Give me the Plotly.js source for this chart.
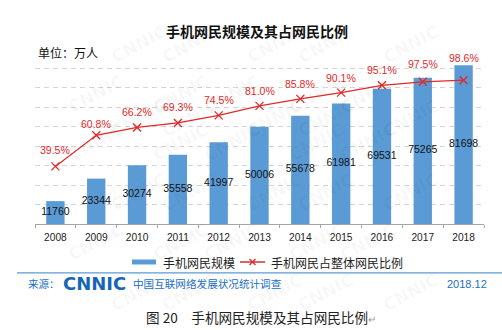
<!DOCTYPE html>
<html>
<head>
<meta charset="utf-8">
<script src="https://cdn.plot.ly/plotly-3.0.1.min.js"></script>
<style>
html,body{margin:0;padding:0;background:#fff;}
#chart{width:502px;height:330px;}
</style>
</head>
<body>
<div id="chart"></div>
<script>
const years = ['2008','2009','2010','2011','2012','2013','2014','2015','2016','2017','2018'];
const users = [11760, 23344, 30274, 35558, 41997, 50006, 55678, 61981, 69531, 75265, 81698];
const ratio = [39.5, 60.8, 66.2, 69.3, 74.5, 81.0, 85.8, 90.1, 95.1, 97.5, 98.6];
const barName = '手机网民规模';
const lineName = '手机网民占整体网民比例';

// styling
const BLUE = '#5b9bd5';
const RED = '#e02a2a';
const CJK = '"Noto Sans CJK SC", "Noto Sans", sans-serif';
const LAT = '"Liberation Sans", Arial, sans-serif';
// vertical lift (px) of each percentage label above its point
const pctLabelLift = [16, 11, 15, 16, 15, 15, 15, 15, 15, 18, 22];

// plot area in pixels
const L = 35, R = 484, T = 49, B = 224;
const px = x => (x - L) / (R - L);
const py = y => (B - y) / (B - T);

const traces = [
  {
    type: 'bar', x: years, y: users, name: barName,
    marker: {color: BLUE}, width: 0.45, showlegend: false, hoverinfo: 'none'
  },
  {
    type: 'scatter', mode: 'text', x: years, y: users.map(v => v / 2),
    text: users.map(String), textposition: 'middle center',
    textfont: {family: LAT, size: 10.5, color: '#111'},
    showlegend: false, hoverinfo: 'none', cliponaxis: false
  },
  {
    type: 'scatter', mode: 'lines+markers', x: years, y: ratio, yaxis: 'y2',
    name: lineName,
    line: {color: RED, width: 1.2},
    marker: {symbol: 'x-thin', size: 8, line: {color: RED, width: 1.3}, color: RED},
    showlegend: false, hoverinfo: 'none', cliponaxis: false
  }
];

const annotations = [];

// faint watermark lattice (kept inside the page)
for (let r = 0; r < 7; r++) {
  for (let c = 0; c < 7; c++) {
    const wx = 30 + c * 85 + (r % 2) * 42 - 10;
    const wy = 18 + r * 50;
    if (wx < 28 || wx > 470 || wy > 320) continue;
    annotations.push({text: '<b>CNNIC</b>', x: px(wx), y: py(wy), xref: 'paper', yref: 'paper',
      showarrow: false, textangle: -28,
      font: {family: '"DejaVu Sans", sans-serif', size: 17, color: 'rgba(0,0,0,0.035)'}});
  }
}

// percentage labels (category index on x, value on y2)
ratio.forEach((v, i) => annotations.push({
  text: v.toFixed(1) + '%', x: i, y: v, xref: 'x', yref: 'y2',
  yanchor: 'middle', yshift: pctLabelLift[i], showarrow: false,
  font: {family: LAT, size: 10.5, color: RED}
}));

[
  {text: '单位：万人', x: px(36), y: py(52), xanchor: 'left', yanchor: 'middle',
   font: {family: CJK, size: 12, color: '#111'}},
  {text: barName, x: px(161), y: py(262), xanchor: 'left', yanchor: 'middle',
   font: {family: CJK, size: 12, color: '#222'}},
  {text: lineName, x: px(269), y: py(262), xanchor: 'left', yanchor: 'middle',
   font: {family: CJK, size: 12, color: '#222'}},
  {text: '来源：', x: px(26), y: py(283.5), xanchor: 'left', yanchor: 'middle',
   font: {family: CJK, size: 10.5, color: '#1a6fc4'}},
  {text: '<b>CNNIC</b>', x: px(61), y: py(283.5), xanchor: 'left', yanchor: 'middle',
   font: {family: '"DejaVu Sans", sans-serif', size: 18, color: '#1565b8'}},
  {text: '中国互联网络发展状况统计调查', x: px(131), y: py(283.5), xanchor: 'left', yanchor: 'middle',
   font: {family: CJK, size: 10.6, color: '#1a6fc4'}},
  {text: '2018.12', x: px(489), y: py(283.5), xanchor: 'right', yanchor: 'middle',
   font: {family: LAT, size: 11, color: '#1a6fc4'}},
  {text: '图 20　手机网民规模及其占网民比例<span style="color:#999;font-size:10px">↵</span>', x: px(144), y: py(317), xanchor: 'left', yanchor: 'middle',
   font: {family: CJK, size: 13.6, color: '#222'}}
].forEach(a => annotations.push(Object.assign({xref: 'paper', yref: 'paper', showarrow: false}, a)));

const shapes = [
  // legend bar swatch
  {type: 'rect', x0: px(132), x1: px(156), y0: py(264.5), y1: py(259.5), fillcolor: BLUE, line: {width: 0}},
  // legend line swatch
  {type: 'line', x0: px(240), x1: px(265), y0: py(262), y1: py(262), line: {color: '#c00000', width: 1.2}},
  {type: 'line', x0: px(249.5), x1: px(255.5), y0: py(259), y1: py(265), line: {color: RED, width: 1.3}},
  {type: 'line', x0: px(249.5), x1: px(255.5), y0: py(265), y1: py(259), line: {color: RED, width: 1.3}},
  // footer separator
  {type: 'line', x0: px(17), x1: px(502), y0: py(272.8), y1: py(272.8), line: {color: '#5b9bd5', width: 1.2}}
].map(s => Object.assign({xref: 'paper', yref: 'paper'}, s));

const layout = {
  width: 502, height: 330,
  margin: {l: L, r: 502 - R, t: T, b: 330 - B, pad: 0},
  paper_bgcolor: '#fff', plot_bgcolor: '#fff',
  showlegend: false,
  title: {text: '<b>手机网民规模及其占网民比例</b>', x: 257 / 502, xanchor: 'center',
          y: 1 - 32 / 330, yanchor: 'middle', yref: 'container',
          font: {family: CJK, size: 14, color: '#111'}},
  xaxis: {type: 'category', range: [-0.5, years.length - 0.5], autorange: false,
          showline: true, linecolor: '#a6a6a6', linewidth: 1,
          ticks: 'outside', tickson: 'boundaries', ticklen: 3, tickcolor: '#a6a6a6',
          ticklabelstandoff: 4,
          tickfont: {family: LAT, size: 10.2, color: '#222'},
          showgrid: false, zeroline: false, fixedrange: true},
  yaxis: {range: [0, 90000], dtick: 10000, showticklabels: false, ticks: '',
          showgrid: true, gridcolor: '#d4d4d4', griddash: '5px,4px', gridwidth: 1,
          zeroline: false, showline: false, fixedrange: true},
  yaxis2: {range: [0, 120], overlaying: 'y', side: 'right', showticklabels: false,
           showgrid: false, zeroline: false, showline: false, ticks: '', fixedrange: true},
  bargap: 0.55,
  annotations: annotations,
  shapes: shapes
};

Plotly.newPlot('chart', traces, layout, {displayModeBar: false, staticPlot: true});
</script>
</body>
</html>
